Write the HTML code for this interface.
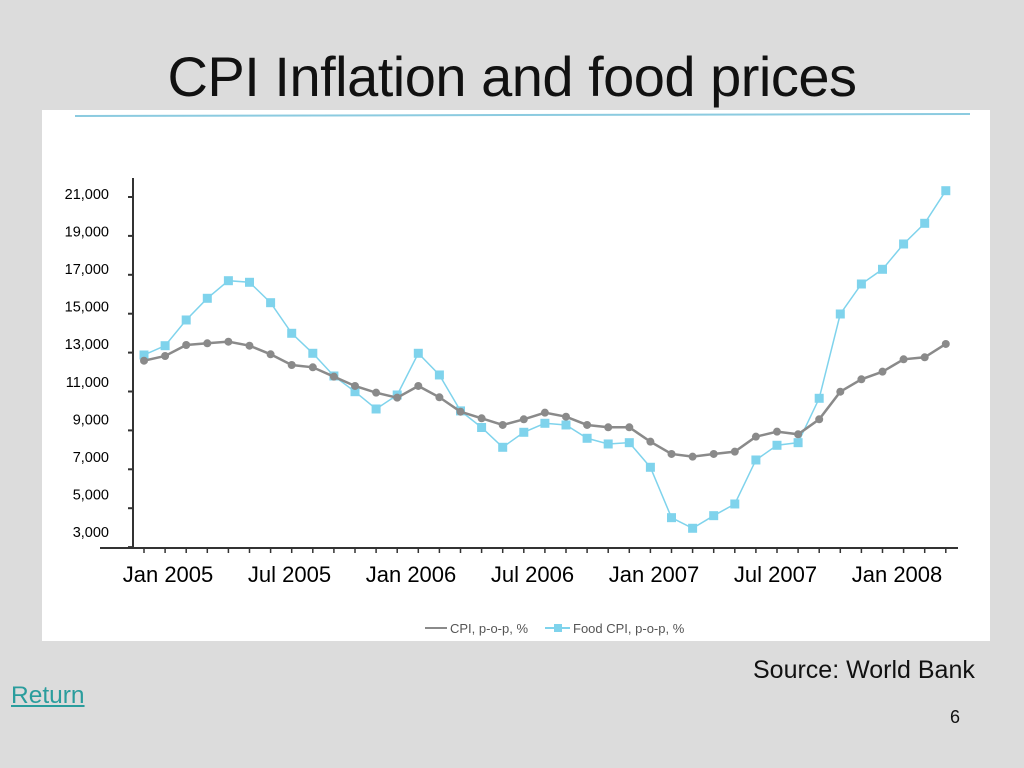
<!DOCTYPE html>
<html><head><meta charset="utf-8">
<style>
body{margin:0;width:1024px;height:768px;background:#dcdcdc;font-family:"Liberation Sans",sans-serif;position:relative;overflow:hidden}
.t{position:absolute}
</style></head><body>
<div class="t" style="left:0;width:1024px;top:44px;text-align:center;font-size:56px;color:#111;letter-spacing:-0.5px">CPI Inflation and food prices</div>
<div class="t" style="left:42px;top:110px;width:948px;height:531px;background:#fff"></div>
<svg class="t" style="left:0;top:0" width="1024" height="768" id="c"></svg>
<div class="t" style="left:753px;top:656px;font-size:25px;color:#111">Source: World Bank</div>
<div class="t" style="left:11px;top:682px;font-size:24.5px;color:#2a9d9d;text-decoration:underline">Return</div>
<div class="t" style="left:950px;top:707px;font-size:18px;color:#111">6</div>
<script>
const cpi=[12584,12826,13391,13479,13561,13355,12913,12363,12245,11762,11284,10939,10682,11284,10703,9962,9623,9279,9571,9911,9705,9279,9160,9160,8420,7788,7649,7788,7906,8677,8934,8800,9571,10990,11628,12019,12656,12759,13443];
const food=[12877,13355,14677,15792,16697,16615,15566,13993,12965,11798,10990,10101,10821,12965,11850,10003,9149,8132,8903,9366,9279,8595,8302,8369,7104,4513,3968,4616,5217,7479,8235,8369,10651,14985,16527,17283,18584,19648,21324];
const yTicks=[21000,19000,17000,15000,13000,11000,9000,7000,5000,3000];
const xLabels=["Jan 2005","Jul 2005","Jan 2006","Jul 2006","Jan 2007","Jul 2007","Jan 2008"];
const NS="http://www.w3.org/2000/svg",s=document.getElementById('c');
const x=i=>144+i*21.1, y=v=>197+(21000-v)/2000*38.9, yl=v=>199+(21000-v)/2000*37.56;
function el(t,a){const e=document.createElementNS(NS,t);for(const k in a)e.setAttribute(k,a[k]);s.appendChild(e);return e;}
let e;
e=el('line',{x1:75,y1:116,x2:970,y2:114,stroke:'#8ccbe0','stroke-width':2});


e=el('line',{x1:133,y1:178,x2:133,y2:548,stroke:'#333','stroke-width':2});


e=el('line',{x1:100,y1:548,x2:958,y2:548,stroke:'#333','stroke-width':2});


yTicks.forEach(v=>{
 e=el('line',{x1:128,y1:y(v),x2:133,y2:y(v),stroke:'#333','stroke-width':2});
 
 
 e=el('text',{x:109,y:yl(v),'font-size':14.5,'text-anchor':'end','font-family':'Liberation Sans'});
 e.textContent=v.toLocaleString('en-US');
 
 
});
for(let i=0;i<cpi.length;i++){
 e=el('line',{x1:x(i),y1:548,x2:x(i),y2:553,stroke:'#333','stroke-width':1.5});
 
 
}
xLabels.forEach((l,i)=>{
 e=el('text',{x:168+i*121.5,y:582,'font-size':22,'text-anchor':'middle','font-family':'Liberation Sans'});
 e.textContent=l;
 
 
});
function series(d,col,name,sq){
 e=el('polyline',{points:d.map((v,i)=>x(i)+','+y(v)).join(' '),fill:'none',stroke:col,'stroke-width':sq?1.5:2.5});
 
 
 d.forEach((v,i)=>{
  e=sq?el('rect',{x:x(i)-4.5,y:y(v)-4.5,width:9,height:9,fill:col}):el('circle',{cx:x(i),cy:y(v),r:4,fill:col});
  
  
 });
}
series(food,'#7fd3ec','food-cpi',true);
series(cpi,'#8a8a8a','cpi',false);
e=el('line',{x1:425,y1:628,x2:447,y2:628,stroke:'#8a8a8a','stroke-width':2});


e=el('text',{x:450,y:633,'font-size':13,fill:'#555','font-family':'Liberation Sans'});
e.textContent='CPI, p-o-p, %';


e=el('line',{x1:545,y1:628,x2:570,y2:628,stroke:'#7fd3ec','stroke-width':2});


e=el('rect',{x:554,y:624,width:8,height:8,fill:'#7fd3ec'});


e=el('text',{x:573,y:633,'font-size':13,fill:'#555','font-family':'Liberation Sans'});
e.textContent='Food CPI, p-o-p, %';


</script>
</body></html>
